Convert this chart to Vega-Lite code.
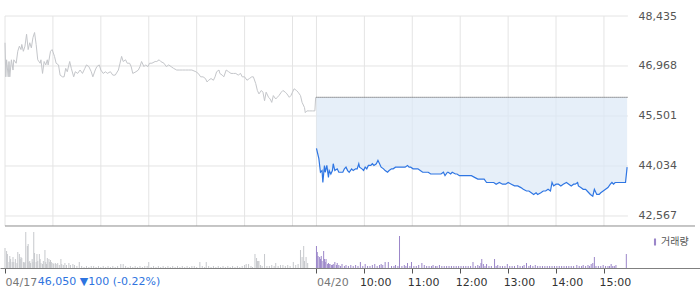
{
"$schema": "https://vega.github.io/schema/vega-lite/v6.json",
"width": 700, "height": 252,
"autosize": {"type": "none"},
"padding": {"top": 16, "bottom": 21, "left": 0, "right": 0},
"background": "white",
"config": {"view": {"stroke": null}, "font": "DejaVu Sans"},
"datasets": {
"p17": [{"m":0,"p":47650},{"m":1,"p":46650},{"m":2,"p":47150},{"m":4,"p":46650},{"m":5,"p":47100},{"m":6,"p":46650},{"m":8,"p":47150},{"m":10,"p":46850},{"m":11,"p":47150},{"m":14,"p":47050},{"m":16,"p":47400},{"m":18,"p":47550},{"m":20,"p":47450},{"m":21,"p":47600},{"m":23,"p":47400},{"m":25,"p":47550},{"m":27,"p":47900},{"m":29,"p":47450},{"m":31,"p":47650},{"m":33,"p":47500},{"m":35,"p":47800},{"m":37,"p":47950},{"m":39,"p":47600},{"m":41,"p":47150},{"m":44,"p":47050},{"m":45,"p":47150},{"m":47,"p":46750},{"m":49,"p":47100},{"m":51,"p":47000},{"m":53,"p":47150},{"m":54,"p":47000},{"m":57,"p":47400},{"m":59,"p":47450},{"m":62,"p":47250},{"m":64,"p":47050},{"m":67,"p":47000},{"m":69,"p":46700},{"m":72,"p":46650},{"m":74,"p":46650},{"m":76,"p":46900},{"m":78,"p":46800},{"m":81,"p":47100},{"m":83,"p":46900},{"m":86,"p":46650},{"m":88,"p":46800},{"m":91,"p":46750},{"m":94,"p":46850},{"m":97,"p":46750},{"m":100,"p":46900},{"m":102,"p":47000},{"m":105,"p":46950},{"m":108,"p":46800},{"m":110,"p":46650},{"m":113,"p":46850},{"m":115,"p":46950},{"m":118,"p":47000},{"m":120,"p":46850},{"m":123,"p":46750},{"m":126,"p":46800},{"m":128,"p":46750},{"m":132,"p":46800},{"m":135,"p":46700},{"m":138,"p":46700},{"m":142,"p":46850},{"m":144,"p":47050},{"m":146,"p":47250},{"m":148,"p":47100},{"m":151,"p":47150},{"m":153,"p":47050},{"m":156,"p":47050},{"m":158,"p":46950},{"m":160,"p":46750},{"m":164,"p":46800},{"m":167,"p":46850},{"m":169,"p":46950},{"m":171,"p":47100},{"m":174,"p":46950},{"m":176,"p":47000},{"m":179,"p":46950},{"m":181,"p":47050},{"m":184,"p":47050},{"m":188,"p":47100},{"m":190,"p":47100},{"m":193,"p":47150},{"m":195,"p":47100},{"m":199,"p":47050},{"m":202,"p":46950},{"m":205,"p":47000},{"m":208,"p":46950},{"m":211,"p":46900},{"m":215,"p":46850},{"m":218,"p":46850},{"m":222,"p":46850},{"m":226,"p":46850},{"m":230,"p":46850},{"m":234,"p":46850},{"m":239,"p":46800},{"m":242,"p":46750},{"m":245,"p":46650},{"m":248,"p":46650},{"m":251,"p":46600},{"m":253,"p":46500},{"m":255,"p":46550},{"m":258,"p":46600},{"m":261,"p":46550},{"m":263,"p":46650},{"m":265,"p":46800},{"m":268,"p":46850},{"m":269,"p":46750},{"m":272,"p":46700},{"m":274,"p":46650},{"m":277,"p":46850},{"m":280,"p":46800},{"m":283,"p":46750},{"m":286,"p":46750},{"m":289,"p":46750},{"m":292,"p":46700},{"m":295,"p":46750},{"m":297,"p":46650},{"m":300,"p":46650},{"m":303,"p":46550},{"m":306,"p":46600},{"m":309,"p":46650},{"m":311,"p":46650},{"m":314,"p":46450},{"m":316,"p":46250},{"m":318,"p":46150},{"m":321,"p":46250},{"m":323,"p":46200},{"m":325,"p":45950},{"m":327,"p":46200},{"m":330,"p":46050},{"m":332,"p":46000},{"m":334,"p":45900},{"m":336,"p":46100},{"m":339,"p":46000},{"m":341,"p":46050},{"m":343,"p":46100},{"m":346,"p":46200},{"m":348,"p":46250},{"m":351,"p":46200},{"m":353,"p":46150},{"m":356,"p":46050},{"m":358,"p":46100},{"m":360,"p":46200},{"m":362,"p":46300},{"m":365,"p":46250},{"m":367,"p":46200},{"m":370,"p":46100},{"m":372,"p":45900},{"m":375,"p":45750},{"m":376,"p":45600},{"m":378,"p":45650},{"m":381,"p":45650},{"m":385,"p":45650},{"m":388,"p":45650},{"m":389,"p":46050}],
"p20": [{"m":390,"p":44550},{"m":393,"p":44250},{"m":395,"p":43850},{"m":397,"p":43900},{"m":398,"p":43550},{"m":400,"p":44050},{"m":401,"p":43850},{"m":403,"p":44050},{"m":405,"p":43700},{"m":406,"p":43900},{"m":408,"p":43800},{"m":410,"p":43900},{"m":411,"p":44100},{"m":413,"p":43900},{"m":416,"p":43950},{"m":418,"p":43850},{"m":420,"p":43850},{"m":423,"p":43850},{"m":425,"p":43950},{"m":427,"p":44000},{"m":429,"p":43900},{"m":431,"p":43850},{"m":434,"p":43950},{"m":436,"p":43900},{"m":439,"p":43950},{"m":441,"p":43950},{"m":443,"p":44100},{"m":444,"p":44000},{"m":447,"p":43950},{"m":449,"p":43900},{"m":451,"p":44000},{"m":453,"p":43950},{"m":455,"p":44050},{"m":458,"p":44050},{"m":460,"p":44100},{"m":462,"p":44050},{"m":465,"p":44100},{"m":467,"p":44200},{"m":469,"p":44100},{"m":471,"p":44000},{"m":474,"p":43950},{"m":476,"p":43900},{"m":479,"p":43850},{"m":481,"p":43900},{"m":484,"p":43950},{"m":486,"p":43950},{"m":489,"p":44000},{"m":491,"p":44000},{"m":494,"p":44000},{"m":496,"p":44000},{"m":499,"p":44000},{"m":501,"p":44000},{"m":504,"p":44050},{"m":506,"p":44000},{"m":508,"p":44000},{"m":511,"p":43950},{"m":513,"p":43950},{"m":517,"p":43950},{"m":520,"p":43900},{"m":523,"p":43850},{"m":527,"p":43850},{"m":530,"p":43850},{"m":533,"p":43800},{"m":536,"p":43800},{"m":540,"p":43800},{"m":543,"p":43800},{"m":546,"p":43800},{"m":549,"p":43850},{"m":551,"p":43750},{"m":554,"p":43850},{"m":555,"p":43850},{"m":558,"p":43800},{"m":560,"p":43850},{"m":564,"p":43800},{"m":566,"p":43800},{"m":569,"p":43750},{"m":572,"p":43750},{"m":576,"p":43750},{"m":580,"p":43750},{"m":584,"p":43750},{"m":588,"p":43700},{"m":592,"p":43650},{"m":596,"p":43650},{"m":600,"p":43650},{"m":603,"p":43550},{"m":606,"p":43550},{"m":609,"p":43550},{"m":612,"p":43550},{"m":615,"p":43500},{"m":619,"p":43550},{"m":623,"p":43500},{"m":627,"p":43500},{"m":630,"p":43550},{"m":634,"p":43500},{"m":638,"p":43450},{"m":642,"p":43450},{"m":646,"p":43400},{"m":649,"p":43350},{"m":653,"p":43300},{"m":656,"p":43300},{"m":659,"p":43250},{"m":662,"p":43200},{"m":665,"p":43250},{"m":667,"p":43200},{"m":671,"p":43250},{"m":674,"p":43300},{"m":677,"p":43300},{"m":680,"p":43350},{"m":683,"p":43300},{"m":685,"p":43550},{"m":687,"p":43450},{"m":690,"p":43500},{"m":693,"p":43500},{"m":696,"p":43450},{"m":699,"p":43500},{"m":703,"p":43550},{"m":706,"p":43500},{"m":709,"p":43450},{"m":712,"p":43500},{"m":714,"p":43500},{"m":717,"p":43550},{"m":718,"p":43450},{"m":721,"p":43400},{"m":724,"p":43350},{"m":727,"p":43350},{"m":731,"p":43250},{"m":733,"p":43200},{"m":736,"p":43150},{"m":738,"p":43350},{"m":741,"p":43200},{"m":744,"p":43200},{"m":746,"p":43250},{"m":749,"p":43300},{"m":752,"p":43350},{"m":755,"p":43400},{"m":758,"p":43500},{"m":760,"p":43550},{"m":762,"p":43500},{"m":764,"p":43550},{"m":766,"p":43550},{"m":769,"p":43550},{"m":773,"p":43550},{"m":777,"p":43550},{"m":779,"p":44000}],
"v17": [{"m":0,"v":20},{"m":2,"v":17},{"m":3,"v":14},{"m":5,"v":6},{"m":6,"v":12},{"m":7,"v":9},{"m":9,"v":6},{"m":10,"v":11},{"m":11,"v":6},{"m":13,"v":9},{"m":15,"v":5},{"m":16,"v":16},{"m":18,"v":14},{"m":19,"v":9},{"m":20,"v":11},{"m":21,"v":10},{"m":23,"v":6},{"m":24,"v":5},{"m":25,"v":6},{"m":26,"v":36},{"m":28,"v":22},{"m":29,"v":24},{"m":30,"v":6},{"m":31,"v":7},{"m":32,"v":5},{"m":34,"v":9},{"m":35,"v":6},{"m":36,"v":36},{"m":37,"v":15},{"m":39,"v":6},{"m":40,"v":14},{"m":41,"v":7},{"m":43,"v":14},{"m":44,"v":9},{"m":45,"v":5},{"m":47,"v":4},{"m":48,"v":7},{"m":50,"v":18},{"m":51,"v":6},{"m":52,"v":4},{"m":53,"v":10},{"m":55,"v":9},{"m":56,"v":6},{"m":57,"v":8},{"m":58,"v":6},{"m":60,"v":5},{"m":61,"v":4},{"m":63,"v":5},{"m":64,"v":4},{"m":66,"v":5},{"m":68,"v":3},{"m":70,"v":9},{"m":71,"v":4},{"m":73,"v":3},{"m":75,"v":5},{"m":77,"v":3},{"m":80,"v":5},{"m":82,"v":3},{"m":85,"v":4},{"m":87,"v":3},{"m":90,"v":2},{"m":93,"v":6},{"m":96,"v":2},{"m":99,"v":1},{"m":102,"v":2},{"m":105,"v":1},{"m":108,"v":2},{"m":111,"v":2},{"m":114,"v":1},{"m":117,"v":2},{"m":120,"v":1},{"m":123,"v":2},{"m":126,"v":1},{"m":129,"v":2},{"m":132,"v":1},{"m":135,"v":2},{"m":138,"v":1},{"m":141,"v":2},{"m":145,"v":4},{"m":148,"v":4},{"m":151,"v":2},{"m":154,"v":1},{"m":157,"v":2},{"m":160,"v":1},{"m":163,"v":2},{"m":166,"v":1},{"m":169,"v":2},{"m":172,"v":1},{"m":175,"v":2},{"m":178,"v":2},{"m":180,"v":6},{"m":183,"v":1},{"m":186,"v":2},{"m":189,"v":1},{"m":192,"v":2},{"m":195,"v":1},{"m":198,"v":2},{"m":201,"v":1},{"m":204,"v":2},{"m":207,"v":1},{"m":210,"v":2},{"m":213,"v":1},{"m":216,"v":2},{"m":219,"v":1},{"m":222,"v":2},{"m":225,"v":1},{"m":228,"v":2},{"m":231,"v":1},{"m":234,"v":2},{"m":237,"v":2},{"m":240,"v":1},{"m":244,"v":6},{"m":247,"v":2},{"m":250,"v":1},{"m":252,"v":6},{"m":255,"v":2},{"m":258,"v":1},{"m":261,"v":2},{"m":264,"v":1},{"m":267,"v":2},{"m":270,"v":1},{"m":273,"v":2},{"m":276,"v":1},{"m":279,"v":2},{"m":282,"v":1},{"m":285,"v":2},{"m":288,"v":1},{"m":291,"v":2},{"m":294,"v":1},{"m":297,"v":2},{"m":300,"v":3},{"m":302,"v":4},{"m":305,"v":4},{"m":308,"v":2},{"m":310,"v":1},{"m":313,"v":14},{"m":315,"v":10},{"m":316,"v":7},{"m":317,"v":7},{"m":318,"v":7},{"m":320,"v":3},{"m":322,"v":2},{"m":325,"v":14},{"m":328,"v":2},{"m":331,"v":2},{"m":334,"v":3},{"m":337,"v":2},{"m":339,"v":5},{"m":342,"v":2},{"m":345,"v":3},{"m":348,"v":3},{"m":351,"v":2},{"m":354,"v":3},{"m":357,"v":2},{"m":361,"v":6},{"m":364,"v":3},{"m":367,"v":4},{"m":370,"v":18},{"m":372,"v":11},{"m":374,"v":22},{"m":375,"v":7},{"m":377,"v":11},{"m":379,"v":5}],
"v20": [{"m":390,"v":22},{"m":391,"v":16},{"m":392,"v":12},{"m":394,"v":11},{"m":395,"v":9},{"m":396,"v":12},{"m":397,"v":7},{"m":399,"v":17},{"m":400,"v":9},{"m":401,"v":6},{"m":402,"v":9},{"m":404,"v":4},{"m":405,"v":5},{"m":406,"v":4},{"m":407,"v":4},{"m":409,"v":3},{"m":410,"v":3},{"m":411,"v":4},{"m":413,"v":6},{"m":415,"v":3},{"m":416,"v":5},{"m":418,"v":3},{"m":420,"v":2},{"m":422,"v":4},{"m":425,"v":2},{"m":427,"v":3},{"m":430,"v":2},{"m":433,"v":3},{"m":436,"v":2},{"m":439,"v":3},{"m":442,"v":2},{"m":445,"v":6},{"m":448,"v":2},{"m":451,"v":4},{"m":454,"v":2},{"m":457,"v":2},{"m":460,"v":3},{"m":463,"v":4},{"m":466,"v":2},{"m":469,"v":3},{"m":471,"v":4},{"m":473,"v":3},{"m":476,"v":6},{"m":480,"v":6},{"m":484,"v":2},{"m":487,"v":2},{"m":489,"v":3},{"m":492,"v":2},{"m":494,"v":32},{"m":497,"v":2},{"m":500,"v":3},{"m":502,"v":2},{"m":504,"v":5},{"m":507,"v":2},{"m":509,"v":6},{"m":512,"v":2},{"m":515,"v":2},{"m":518,"v":3},{"m":522,"v":5},{"m":525,"v":3},{"m":528,"v":2},{"m":531,"v":2},{"m":534,"v":2},{"m":536,"v":3},{"m":539,"v":2},{"m":541,"v":2},{"m":544,"v":3},{"m":547,"v":2},{"m":550,"v":2},{"m":553,"v":2},{"m":556,"v":2},{"m":559,"v":2},{"m":562,"v":2},{"m":565,"v":2},{"m":568,"v":2},{"m":571,"v":2},{"m":574,"v":2},{"m":577,"v":2},{"m":580,"v":2},{"m":583,"v":2},{"m":586,"v":6},{"m":589,"v":2},{"m":592,"v":3},{"m":594,"v":2},{"m":596,"v":5},{"m":597,"v":9},{"m":599,"v":4},{"m":601,"v":2},{"m":603,"v":4},{"m":606,"v":2},{"m":609,"v":2},{"m":613,"v":9},{"m":615,"v":2},{"m":617,"v":3},{"m":620,"v":2},{"m":623,"v":2},{"m":626,"v":2},{"m":629,"v":4},{"m":632,"v":2},{"m":635,"v":2},{"m":638,"v":2},{"m":642,"v":3},{"m":645,"v":2},{"m":648,"v":2},{"m":650,"v":3},{"m":653,"v":5},{"m":656,"v":2},{"m":658,"v":3},{"m":661,"v":2},{"m":664,"v":3},{"m":667,"v":2},{"m":670,"v":2},{"m":673,"v":2},{"m":676,"v":2},{"m":679,"v":2},{"m":682,"v":2},{"m":685,"v":2},{"m":688,"v":2},{"m":691,"v":2},{"m":694,"v":2},{"m":697,"v":2},{"m":700,"v":2},{"m":703,"v":2},{"m":706,"v":2},{"m":709,"v":2},{"m":712,"v":2},{"m":716,"v":3},{"m":719,"v":2},{"m":722,"v":2},{"m":724,"v":3},{"m":727,"v":2},{"m":730,"v":3},{"m":732,"v":2},{"m":734,"v":4},{"m":736,"v":5},{"m":738,"v":11},{"m":740,"v":2},{"m":743,"v":2},{"m":746,"v":2},{"m":749,"v":3},{"m":752,"v":2},{"m":755,"v":2},{"m":757,"v":2},{"m":759,"v":4},{"m":761,"v":2},{"m":763,"v":2},{"m":765,"v":3},{"m":778,"v":14}]
},
"encoding": {
  "x": {"field": "m", "type": "quantitative",
    "scale": {"domain": [0, 864], "nice": false, "zero": false},
    "axis": {"values": [0, 390, 450, 510, 570, 630, 690, 750],
      "labelExpr": "datum.value == 0 ? '04/17' : datum.value == 390 ? '04/20' : (floor((datum.value - 390) / 60) + 9) + ':00'",
      "grid": false, "title": null, "domainColor": "#808080", "tickColor": "#555555", "tickSize": 5,
      "labelFont": "DejaVu Sans", "labelFontSize": 11,
      "labelColor": {"condition": {"test": "datum.value < 400", "value": "#777777"}, "value": "#333333"},
      "labelAlign": "left",
      "labelOffset": {"condition": {"test": "datum.value > 400", "value": -5}, "value": 0},
      "labelPadding": 3, "labelFlush": false, "labelOverlap": false, "labelBound": false}}
},
"layer": [
  {
    "encoding": {"y": {"field": "p", "type": "quantitative",
      "scale": {"domain": [41041.3, 48435], "nice": false, "zero": false},
      "axis": {"orient": "right", "values": [42567, 44034, 45501, 46968, 48435], "format": ",d",
        "offset": -64, "ticks": false, "tickSize": 0, "domain": false, "grid": false,
        "labelPadding": 2, "labelAlign": "left", "labelBaseline": "middle", "labelColor": "#555555",
        "labelFontSize": 11, "labelFont": "DejaVu Sans", "title": null,
        "labelOverlap": false, "labelBound": false, "labelFlush": false}}},
    "layer": [
      {"data": {"values": [{"m":0,"p":48435,"p2":42273.6},{"m":60,"p":48435,"p2":42273.6},{"m":120,"p":48435,"p2":42273.6},{"m":180,"p":48435,"p2":42273.6},{"m":240,"p":48435,"p2":42273.6},{"m":300,"p":48435,"p2":42273.6},{"m":360,"p":48435,"p2":42273.6},{"m":390,"p":48435,"p2":42273.6},{"m":450,"p":48435,"p2":42273.6},{"m":510,"p":48435,"p2":42273.6},{"m":570,"p":48435,"p2":42273.6},{"m":630,"p":48435,"p2":42273.6},{"m":690,"p":48435,"p2":42273.6},{"m":750,"p":48435,"p2":42273.6}]},
       "mark": {"type": "rule", "color": "#e4e4e4", "strokeWidth": 1},
       "encoding": {"y2": {"field": "p2"}}},
      {"data": {"values": [{"p":42567,"m":0,"m2":780},{"p":44034,"m":0,"m2":780},{"p":45501,"m":0,"m2":780},{"p":46968,"m":0,"m2":780},{"p":48435,"m":0,"m2":780}]},
       "mark": {"type": "rule", "color": "#e4e4e4", "strokeWidth": 1},
       "encoding": {"x2": {"field": "m2"}}},
      {"data": {"name": "p20"},
       "mark": {"type": "area", "color": "#dce8f7", "opacity": 0.7},
       "encoding": {"y2": {"datum": 46050}}},
      {"data": {"values": [{"m":390,"p":46050},{"m":780,"p":46050}]},
       "mark": {"type": "line", "color": "#444444", "strokeDash": [1, 1], "strokeWidth": 1}},
      {"data": {"name": "p17"},
       "mark": {"type": "line", "color": "#c4c6ca", "strokeWidth": 1}},
      {"data": {"name": "p20"},
       "mark": {"type": "line", "color": "#2f76e3", "strokeWidth": 1.2}},
      {"data": {"values": [{"m":0,"m2":864,"p":42273.6}]},
       "mark": {"type": "rule", "color": "#8c8c8c", "strokeWidth": 1},
       "encoding": {"x2": {"field": "m2"}}},
      {"data": {"values": [{"m": 41, "p": 41041.3, "t": "46,050 ▼100 (-0.22%)"}]},
       "mark": {"type": "text", "align": "left", "baseline": "top", "dy": 8, "color": "#2e74e0", "font": "DejaVu Sans", "fontSize": 11},
       "encoding": {"text": {"field": "t"}}}
    ]
  },
  {
    "encoding": {"y": {"field": "v", "type": "quantitative",
      "scale": {"domain": [0, 252], "nice": false, "zero": true}, "axis": null}},
    "layer": [
      {"data": {"name": "v17"},
       "mark": {"type": "bar", "color": "#c6c8cc", "size": 1}},
      {"data": {"name": "v20"},
       "mark": {"type": "bar", "size": 1},
       "encoding": {"color": {"datum": "거래량", "scale": {"range": ["#9b86c9"]},
         "legend": {"title": null, "orient": "none", "legendX": 650, "legendY": 221,
           "symbolType": "M-0.3,-1H0.3V1H-0.3Z", "symbolSize": 49, "symbolStrokeWidth": 0,
           "labelFont": "Noto Sans CJK KR", "labelFontSize": 10, "labelColor": "#555555",
           "labelOffset": 1, "padding": 0}}}}
    ]
  }
],
"resolve": {"scale": {"y": "independent"}}
}
